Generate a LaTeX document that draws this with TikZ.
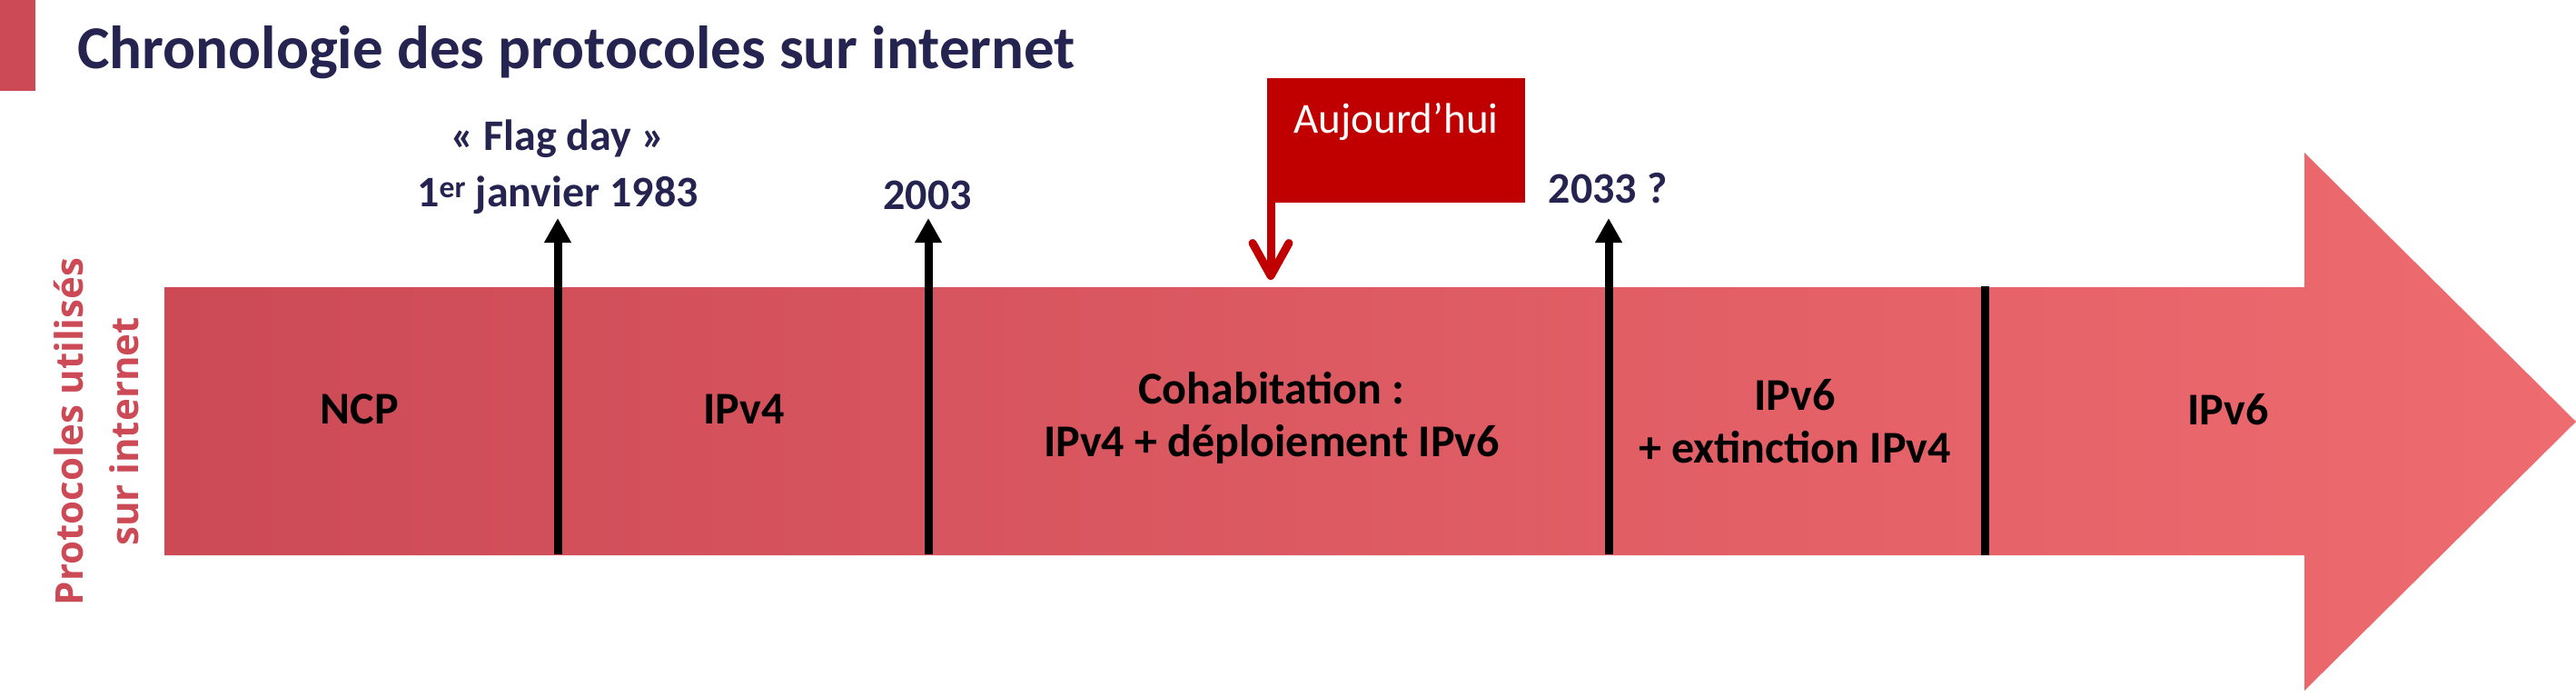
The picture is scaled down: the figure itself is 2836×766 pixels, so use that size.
\documentclass[tikz,border=0pt]{standalone}
\usepackage{fontspec}
\setmainfont{Carlito}
\newfontfamily\vfont{Open Sans}
\usetikzlibrary{arrows.meta}
\definecolor{navy}{HTML}{25234F}
\definecolor{barL}{HTML}{CC4A56}
\definecolor{barR}{HTML}{EE6B6F}
\definecolor{flagred}{HTML}{C00000}
\begin{document}
\begin{tikzpicture}[x=1pt,y=-1pt,
  seg/.style={font=\fontsize{50}{58}\selectfont\bfseries, text=black, align=center, inner sep=0pt, anchor=base},
  datelab/.style={font=\fontsize{48}{62}\selectfont\bfseries, text=navy, align=center, inner sep=0pt, anchor=base},
  tick/.style={line width=9pt, black},
  tickarrow/.style={tick, -{Triangle[length=27pt,width=28pt]}},
]
\useasboundingbox (0,0) rectangle (2836,766);
% left accent bar
\fill[barL] (0,0) rectangle (39,100);
% title
\node[anchor=base west, inner sep=0pt, font=\fontsize{67}{70}\selectfont\bfseries, text=navy] (title) at (85,75) {Chronologie des protocoles sur internet};
% big arrow
\shade[left color=barL, right color=barR] (181,316) -- (2537,316) -- (2537,168) -- (2836,464) -- (2537,760) -- (2537,611) -- (181,611) -- cycle;
% vertical label (base = baseline of last line)
\node[rotate=90, anchor=base, inner sep=0pt, align=center, text=barL, font=\vfont\fontsize{42}{61}\selectfont\bfseries] (ylab) at (152,475) {Protocoles utilisés\\sur internet};
% ticks
\coordinate (b1983) at (614,610); \coordinate (t1983) at (614,240);
\coordinate (b2003) at (1022,610); \coordinate (t2003) at (1022,240);
\coordinate (b2033) at (1771,610); \coordinate (t2033) at (1771,240);
\coordinate (bend) at (2185,611); \coordinate (tend) at (2185,315);
\draw[tickarrow] (b1983) -- (t1983);
\draw[tickarrow] (b2003) -- (t2003);
\draw[tickarrow] (b2033) -- (t2033);
\draw[tick] (bend) -- (tend);
% date labels
\node[datelab] (l1983) at (614,227) {«~Flag day~»\\1\textsuperscript{er} janvier 1983};
\node[datelab] (l2003) at (1021,230) {2003};
\node[datelab] (l2033) at (1770,223) {2033 ?};
% today flag
\node[fill=flagred, anchor=north west, inner sep=0pt, minimum width=284, minimum height=137] (flag) at (1395,86) {};
\node[anchor=base, inner sep=0pt, text=white, font=\fontsize{47}{50}\selectfont] (flagtxt) at (1537,146) {Aujourd’hui};
\coordinate (today) at (1399,308);
\draw[flagred, line width=9pt, -{Straight Barb[length=36pt,width=40pt,round]}] ([xshift=4pt]flag.north west) -- (today);
% segment labels (base = baseline of last line)
\node[seg] (ncp) at (396,466) {NCP};
\node[seg] (ipv4) at (819,466) {IPv4};
\node[seg] (coh) at (1400,502) {Cohabitation :\\IPv4 + déploiement IPv6};
\node[seg] (ext) at (1976,509) {IPv6\\+ extinction IPv4};
\node[seg] (ipv6) at (2453,467) {IPv6};
\end{tikzpicture}
\end{document}
